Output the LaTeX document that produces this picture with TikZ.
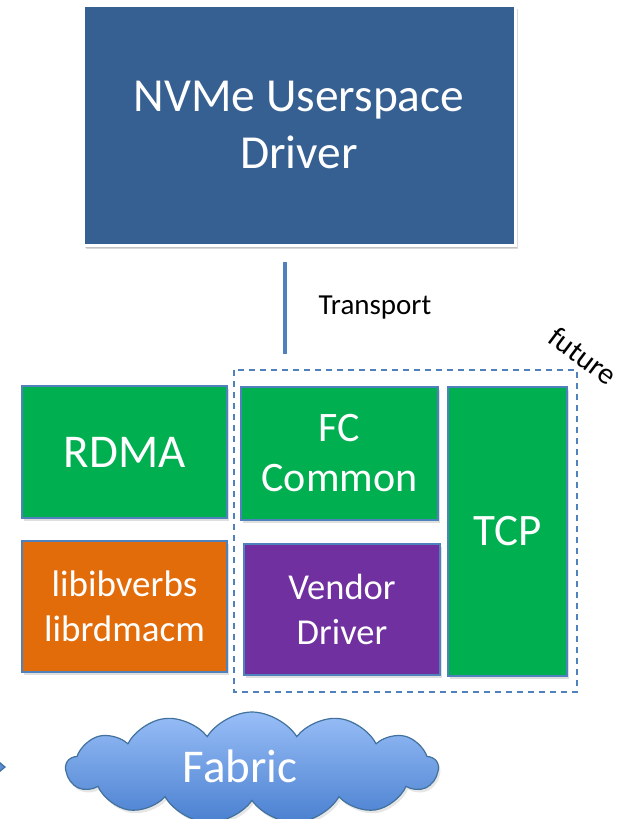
\documentclass[tikz,border=0pt]{standalone}
\usepackage{fontspec}
\setmainfont{Carlito}
\usepackage{xcolor}
\usetikzlibrary{positioning}
\usetikzlibrary{shapes.symbols}
\usetikzlibrary{shadows}

\definecolor{driverblue}{HTML}{376092}
\definecolor{stackgreen}{HTML}{00B050}
\definecolor{liborange}{HTML}{E36C0A}
\definecolor{vendorpurple}{HTML}{7030A0}
\definecolor{edgeblue}{HTML}{4F81BD}
\definecolor{cloudtop}{HTML}{98BEF7}
\definecolor{cloudbottom}{HTML}{4A80D0}
\definecolor{cloudedge}{HTML}{41719C}

\begin{document}
\begin{tikzpicture}[x=1pt, y=-1pt,
	layer/.style={draw=edgeblue, line width=1.2pt, rectangle, inner sep=0pt, text=white, align=center,
		drop shadow={shadow xshift=2pt, shadow yshift=-3pt, opacity=0.25}},
	link/.style={draw=edgeblue, line width=4pt}]
	\useasboundingbox (0,0) rectangle (635,819);
	% upper layer
	\node[layer, draw=white, line width=3pt, fill=driverblue, minimum width=432pt, minimum height=240pt,
		font=\fontsize{47.4}{57.8}\selectfont,
		drop shadow={shadow xshift=3pt, shadow yshift=-4pt, opacity=0.3}] (Driver) at (299, 125) {NVMe Userspace\\Driver};
	% transport connector
	\coordinate (TransportTop) at (285, 262);
	\coordinate (TransportBottom) at (285, 354);
	\draw[link] (TransportTop) -- (TransportBottom);
	\node[font=\fontsize{29}{35}\selectfont] (Transport) at (375, 308) {Transport};
	% future transports
	\draw[draw=edgeblue, line width=1.2pt, dash pattern=on 6pt off 5pt] (234, 370) rectangle (577, 692);
	\node[font=\fontsize{30}{36}\selectfont, rotate=-37] (Future) at (583, 356) {future};
	% transports
	\node[layer, fill=stackgreen, minimum width=205pt, minimum height=132pt, font=\fontsize{47}{57}\selectfont] (RDMA) at (124.5, 452) {RDMA};
	\node[layer, fill=liborange, minimum width=205pt, minimum height=131pt, font=\fontsize{37}{45}\selectfont] (RDMA libs) at (124.5, 606.5) {libibverbs\\librdmacm};
	\node[layer, fill=stackgreen, minimum width=197pt, minimum height=133pt, font=\fontsize{42}{50}\selectfont] (FC Common) at (339.5, 453.5) {FC\\Common};
	\node[layer, fill=vendorpurple, minimum width=196pt, minimum height=131pt, font=\fontsize{36.5}{44.5}\selectfont] (Vendor Driver) at (342, 609.5) {Vendor\\Driver};
	\node[layer, fill=stackgreen, minimum width=119pt, minimum height=289pt, font=\fontsize{45}{55}\selectfont] (TCP) at (507.5, 531.5) {TCP};
	% fabric
	\node[cloud, cloud puffs=13, cloud puff arc=115, aspect=3.4, draw=cloudedge, line width=1.2pt,
		top color=cloudtop, bottom color=cloudbottom, minimum width=372pt, minimum height=112pt, inner sep=0pt,
		drop shadow={shadow xshift=2pt, shadow yshift=-3pt, opacity=0.2}] (Fabric) at (252, 768) {};
	\node[text=white, font=\fontsize{47}{57}\selectfont] (Fabric label) at (240, 766) {Fabric};
	% cut-off shape at the left edge
	\filldraw[draw=cloudedge, fill=cloudbottom!80!cloudtop, line width=1.2pt] (-14, 751) -- (5, 767) -- (-14, 783) -- cycle;
\end{tikzpicture}
\end{document}
